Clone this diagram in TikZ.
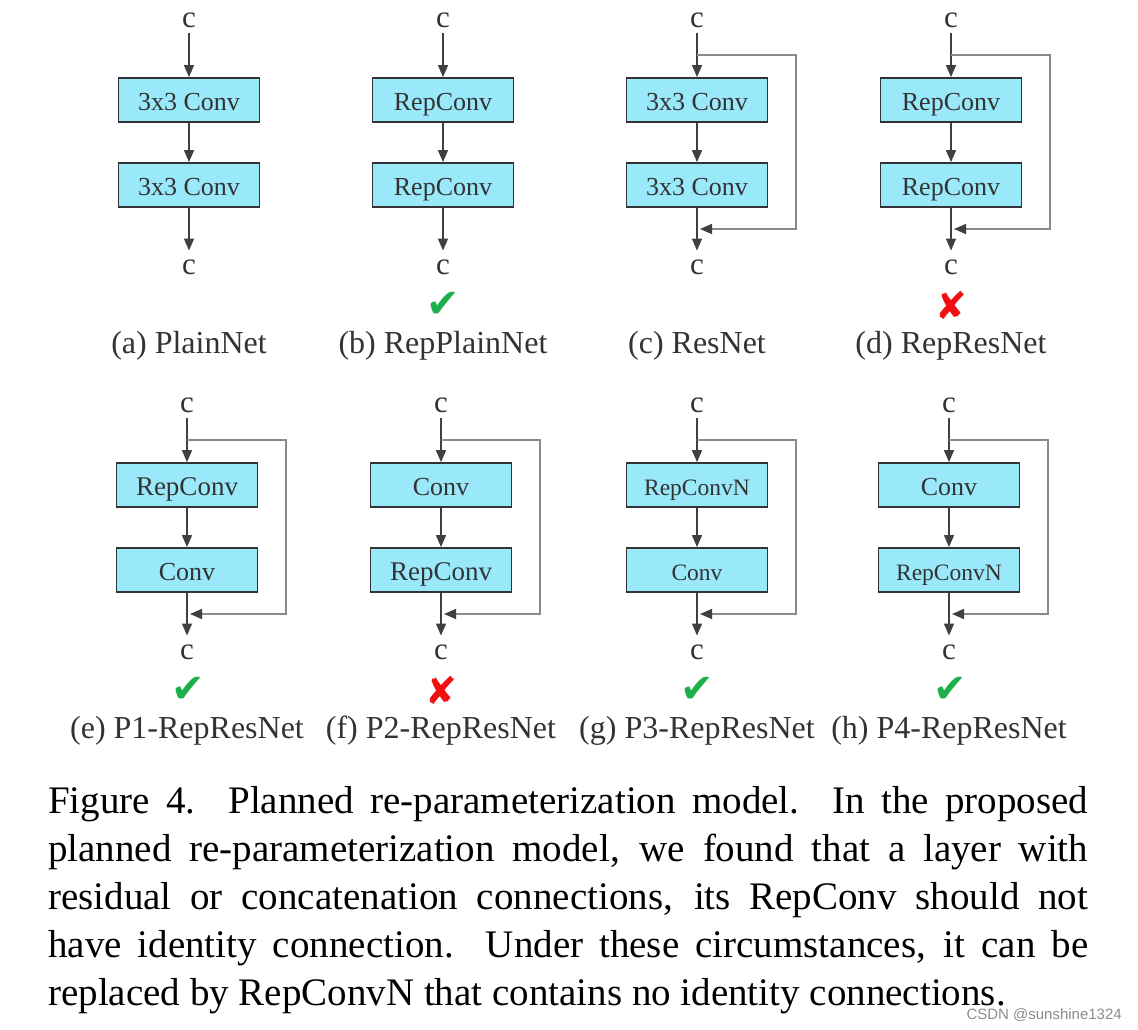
\documentclass[tikz,border=0pt]{standalone}
\usepackage{fontspec}
\setmainfont{Liberation Serif}
\newfontfamily\symfont{DejaVu Sans}
\newfontfamily\wmfont{Liberation Sans}
\usetikzlibrary{arrows.meta}
\definecolor{boxfill}{HTML}{99E9FB}
\definecolor{boxdraw}{HTML}{333333}
\definecolor{txt}{HTML}{333333}
\definecolor{arrowc}{HTML}{404040}
\definecolor{skipc}{HTML}{8A8A8A}
\definecolor{okgreen}{HTML}{1DB04A}
\definecolor{badred}{HTML}{F01010}
\definecolor{wmgray}{HTML}{8C8C8C}
\newcommand\mkpanel[6]{%
  \node[cn] (#1i) at (#2,20+#3) {c};
  \node[blk] (#11) at (#2,100+#3) {#4};
  \node[blk] (#12) at (#2,185+#3) {#5};
  \node[cn] (#1o) at (#2,267+#3) {c};
  \node[lbl] (#1l) at (#2,346+#3) {#6};
  \draw[flow, shorten <=6pt] (#1i.south) -- (#11.north);
  \draw[flow] (#11.south) -- (#12.north);
  \draw[flow, shorten >=9pt] (#12.south) -- (#1o.north);
}
\newcommand\mkskip[3]{%
  \coordinate (#1s) at (#2,55+#3);
  \coordinate (#1e) at (#2+3,229+#3);
  \draw[skipl] (#1s) -- ++(99,0) |- (#1e);
}
\begin{document}
\begin{tikzpicture}[x=1pt,y=-1pt,
  blk/.style={draw=boxdraw, fill=boxfill, line width=1.8pt, minimum width=141pt,
    minimum height=44pt, inner sep=0pt, font=\fontsize{26}{30}\selectfont, text=txt,
    text height=24pt, text depth=3pt},
  cn/.style={font=\fontsize{31}{36}\selectfont, text=txt, inner sep=0pt, outer sep=0pt},
  flow/.style={draw=arrowc, line width=1.4pt,
    -{Triangle[length=12pt,width=10pt]}},
  skipl/.style={draw=skipc, line width=1.4pt, -{Triangle[length=12pt,width=10pt,color=arrowc]}},
  lbl/.style={font=\fontsize{32}{38}\selectfont, text=txt},
  okm/.style={font=\symfont\fontsize{40}{44}\selectfont, text=okgreen, inner sep=0pt},
  badm/.style={font=\symfont\fontsize{38}{42}\selectfont, text=badred, inner sep=0pt}
]
\useasboundingbox (0,0) rectangle (1138,1030);
\fill[white] (0,0) rectangle (1138,1030);

% top row
\mkpanel{a}{189}{0}{3x3 Conv}{3x3 Conv}{(a) PlainNet}
\mkpanel{b}{443}{0}{RepConv}{RepConv}{(b) RepPlainNet}
\mkpanel{c}{697}{0}{3x3 Conv}{3x3 Conv}{(c) ResNet}
\mkpanel{d}{951}{0}{RepConv}{RepConv}{(d) RepResNet}
\mkskip{c}{697}{0}
\mkskip{d}{951}{0}
\node[okm] (bm) at (443,305) {✔};
\node[badm] (dm) at (951,305) {✘};

% bottom row
\mkpanel{e}{187}{385}{\fontsize{27}{30}\selectfont RepConv}{Conv}{(e) P1-RepResNet}
\mkpanel{f}{441}{385}{Conv}{\fontsize{27}{30}\selectfont RepConv}{(f) P2-RepResNet}
\mkpanel{g}{697}{385}{\fontsize{23.5}{28}\selectfont RepConvN}{\fontsize{23.5}{28}\selectfont Conv}{(g) P3-RepResNet}
\mkpanel{h}{949}{385}{Conv}{\fontsize{23.5}{28}\selectfont RepConvN}{(h) P4-RepResNet}
\mkskip{e}{187}{385}
\mkskip{f}{441}{385}
\mkskip{g}{697}{385}
\mkskip{h}{949}{385}
\node[okm] (em) at (188,690) {✔};
\node[badm] (fm) at (441,690) {✘};
\node[okm] (gm) at (697,690) {✔};
\node[okm] (hm) at (950,690) {✔};

% caption
\node[anchor=north west, inner sep=0pt, text width=1040pt, align=justify,
  font=\fontsize{39}{48}\selectfont] (cap) at (48,786)
  {\hyphenpenalty=10000\exhyphenpenalty=10000\tolerance=10000%
  Figure 4.\ \ Planned re-parameterization model.\ \ In the proposed\linebreak
  planned re-parameterization model, we found that a layer with\linebreak
  residual or concatenation connections, its RepConv should not\linebreak
  have identity connection.\ \ Under these circumstances, it can be\linebreak
  replaced by RepConvN that contains no identity connections.};

% watermark
\node[anchor=east, inner sep=0pt, font=\wmfont\fontsize{15}{18}\selectfont, text=wmgray]
  (wm) at (1122,1015) {CSDN @sunshine1324};
\end{tikzpicture}
\end{document}
